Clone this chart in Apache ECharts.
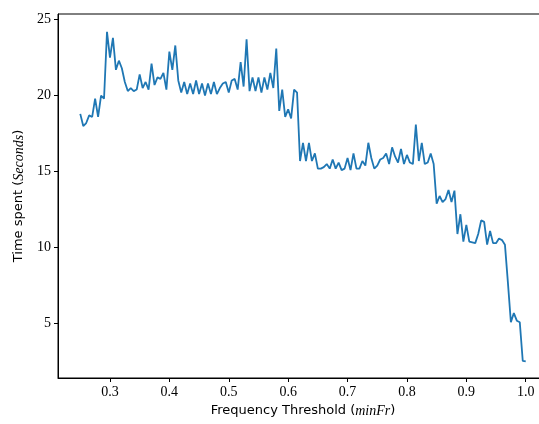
<!DOCTYPE html>
<html>
<head>
<meta charset="utf-8">
<script src="https://cdn.jsdelivr.net/npm/echarts@6/dist/echarts.min.js"></script>
<style>html,body{margin:0;padding:0;background:#fff;}#c{width:539px;height:424px;}</style>
</head>
<body>
<div id="c"></div>
<script>
const thresholds = [
  0.25,0.255,0.26,0.265,0.27,0.275,0.28,0.285,0.29,0.295,
  0.30,0.305,0.31,0.315,0.32,0.325,0.33,0.335,0.34,0.345,
  0.35,0.355,0.36,0.365,0.37,0.375,0.38,0.385,0.39,0.395,
  0.40,0.405,0.41,0.415,0.42,0.425,0.43,0.435,0.44,0.445,
  0.45,0.455,0.46,0.465,0.47,0.475,0.48,0.485,0.49,0.495,
  0.50,0.505,0.51,0.515,0.52,0.525,0.53,0.535,0.54,0.545,
  0.55,0.555,0.56,0.565,0.57,0.575,0.58,0.585,0.59,0.595,
  0.60,0.605,0.61,0.615,0.62,0.625,0.63,0.635,0.64,0.645,
  0.65,0.655,0.66,0.665,0.67,0.675,0.68,0.685,0.69,0.695,
  0.70,0.705,0.71,0.715,0.72,0.725,0.73,0.735,0.74,0.745,
  0.75,0.755,0.76,0.765,0.77,0.775,0.78,0.785,0.79,0.795,
  0.80,0.805,0.81,0.815,0.82,0.825,0.83,0.835,0.84,0.845,
  0.85,0.855,0.86,0.865,0.87,0.875,0.88,0.885,0.89,0.895,
  0.90,0.905,0.91,0.915,0.92,0.925,0.93,0.935,0.94,0.945,
  0.95,0.955,0.96,0.965,0.97,0.975,0.98,0.985,0.99,0.995,1.0
];
const timeSpent = [
  18.8,18.0,18.2,18.7,18.6,19.8,18.6,20.0,19.8,24.2,
  22.5,23.8,21.7,22.3,21.8,20.9,20.3,20.5,20.3,20.4,
  21.4,20.5,20.9,20.4,22.1,20.7,21.2,21.1,21.5,20.4,
  22.9,21.7,23.3,21.0,20.2,20.9,20.1,20.8,20.1,21.0,
  20.1,20.8,20.0,20.8,20.1,20.9,20.1,20.5,20.8,20.9,
  20.2,21.0,21.1,20.4,22.2,20.6,23.7,20.3,21.2,20.3,
  21.2,20.2,21.2,20.4,21.5,20.5,23.1,19.0,20.4,18.6,
  19.1,18.5,20.4,20.2,15.7,16.9,15.7,16.9,15.7,16.2,
  15.2,15.2,15.3,15.5,15.2,15.8,15.2,15.6,15.1,15.2,
  15.9,15.1,16.2,15.2,15.2,15.7,15.4,16.9,15.9,15.2,
  15.4,15.8,15.9,16.2,15.5,16.6,16.0,15.6,16.5,15.5,
  16.1,15.6,15.5,18.1,15.7,16.9,15.5,15.6,16.2,15.5,
  12.9,13.4,13.0,13.2,13.8,13.0,13.75,10.9,12.2,10.4,
  11.5,10.4,10.35,10.3,10.9,11.8,11.7,10.2,11.1,10.3,
  10.3,10.6,10.5,10.2,7.7,5.1,5.7,5.2,5.1,2.55,2.52
];
const xTicks = [0.3,0.4,0.5,0.6,0.7,0.8,0.9,1.0];
const yTicks = [5,10,15,20,25];

const chart = echarts.init(document.getElementById('c'), null, {renderer:'canvas'});
const serif = '"Liberation Serif","DejaVu Serif",serif';
const sans = '"DejaVu Sans","Noto Sans",sans-serif';
chart.setOption({
  animation: false,
  backgroundColor: '#fff',
  grid: {left: 58, top: 14, width: 490, height: 364, show: true,
         borderColor: '#000', borderWidth: 1, backgroundColor: 'transparent',
         containLabel: false, outerBoundsMode: 'none'},
  xAxis: {
    type: 'value', min: 0.2125, max: 1.0375,
    name: 'Frequency Threshold ({i|minFr})',
    nameLocation: 'middle', nameGap: 25,
    nameTextStyle: {fontFamily: sans, fontSize: 13, color: '#000',
      rich: {i: {fontFamily: serif, fontStyle: 'italic', fontSize: 14, color: '#000'}}},
    axisLine: {show: true, onZero: false, lineStyle: {color: '#000', width: 1}},
    axisTick: {show: true, length: 4, lineStyle: {color: '#000'}, customValues: xTicks},
    axisLabel: {margin: 7, fontFamily: serif, fontSize: 14, color: '#000',
      customValues: xTicks, formatter: v => v.toFixed(1)},
    splitLine: {show: false}
  },
  yAxis: {
    type: 'value', min: 1.43, max: 25.37,
    name: 'Time spent ({i|Seconds})',
    nameLocation: 'middle', nameGap: 32,
    nameTextStyle: {fontFamily: sans, fontSize: 13, color: '#000',
      rich: {i: {fontFamily: serif, fontStyle: 'italic', fontSize: 14, color: '#000'}}},
    axisLine: {show: true, onZero: false, lineStyle: {color: '#000', width: 1}},
    axisTick: {show: true, length: 4, lineStyle: {color: '#000'}, customValues: yTicks},
    axisLabel: {margin: 7, fontFamily: serif, fontSize: 14, color: '#000',
      customValues: yTicks},
    splitLine: {show: false}
  },
  series: [{
    type: 'line',
    data: thresholds.map((x, i) => [x, timeSpent[i]]),
    showSymbol: false,
    lineStyle: {color: '#1f77b4', width: 1.8},
    itemStyle: {color: '#1f77b4'}
  }]
});
</script>
</body>
</html>
